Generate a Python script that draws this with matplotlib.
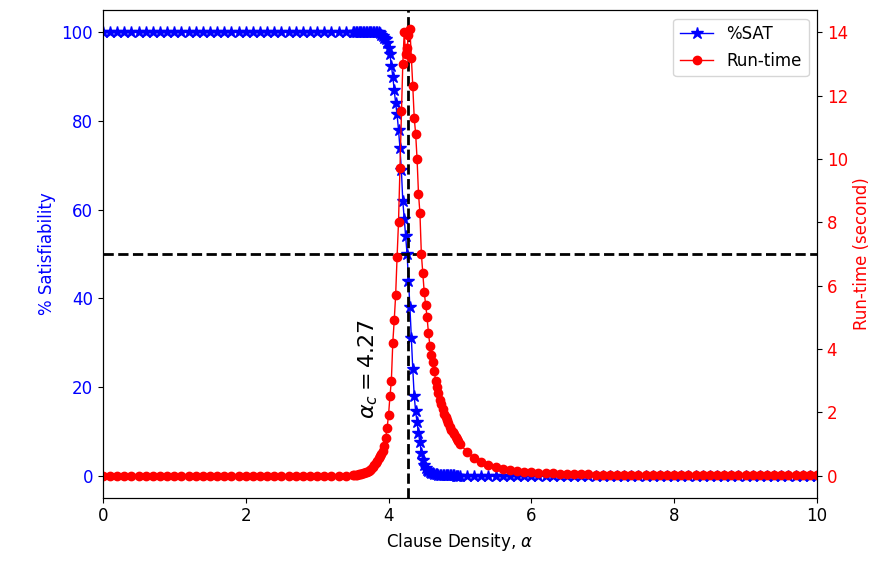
import numpy as np
import matplotlib
matplotlib.use("Agg")
import matplotlib.pyplot as plt

# sampling: 0.1 steps far from the transition, 0.02 steps around it
x_low = np.round(np.arange(0.0, 3.45, 0.1), 2)
x_mid = np.round(np.arange(3.50, 4.99, 0.02), 2)
x_high = np.round(np.arange(5.0, 10.05, 0.1), 2)

sat_low = [100.0] * len(x_low)
sat_mid = [100, 100, 100, 100, 100, 100, 100, 100, 100, 100,
           100, 100, 100, 100, 100, 100, 100, 100, 100,
           99.8, 99.5, 99.2, 98.8, 98.5, 97.5, 96.5, 95, 92.5, 90,
           87, 84, 81.5, 78, 74, 69, 62, 58, 54, 50,
           44, 38, 31, 24, 18, 14.5, 12, 9.5, 7.5, 5,
           3.5, 2.5, 1.8, 1.3, 1.0, 0.8, 0.6, 0.5, 0.4, 0.3,
           0.25, 0.2,
           0.15, 0.12, 0.1, 0.1, 0.08, 0.06, 0.05, 0.05, 0.04, 0.03,
           0.03, 0.02, 0.02, 0.02]
sat_high = [0.0] * len(x_high)

rt_low = [0.0] * len(x_low)
rt_mid = [0.02, 0.02, 0.03, 0.03, 0.04, 0.05, 0.06, 0.07, 0.08, 0.10,
          0.12, 0.15, 0.18, 0.22, 0.28, 0.33, 0.40, 0.47, 0.55, 0.62,
          0.68, 0.78, 0.95, 1.2, 1.5, 1.9, 2.5, 3.0, 4.2, 4.9,
          5.7, 6.9, 8.0, 9.7, 11.5, 13.0, 14.0, 13.3, 13.5, 13.9,
          14.1, 13.2, 12.3, 11.3, 10.8, 10.0, 8.9, 8.3, 7.0, 6.4,
          5.8, 5.4, 5.0, 4.5, 4.1, 3.8, 3.6, 3.3, 3.0, 2.8,
          2.6, 2.4, 2.25, 2.1, 1.95, 1.85, 1.75, 1.65, 1.55, 1.45,
          1.38, 1.3, 1.22, 1.15, 1.08]
rt_high = [1.0, 0.75, 0.56, 0.42, 0.32, 0.26, 0.21, 0.17, 0.14, 0.12,
           0.10, 0.09, 0.08, 0.07, 0.06, 0.05, 0.05, 0.04, 0.04, 0.03,
           0.03, 0.03, 0.03, 0.02, 0.02, 0.02, 0.02, 0.02, 0.02, 0.02,
           0.02, 0.01, 0.01, 0.01, 0.01, 0.01, 0.01, 0.01, 0.01, 0.01,
           0.01, 0.01, 0.01, 0.01, 0.01, 0.01, 0.01, 0.01, 0.01, 0.01,
           0.01]

alpha = np.concatenate([x_low, x_mid, x_high])
sat = np.concatenate([sat_low, sat_mid, sat_high])
runtime = np.concatenate([rt_low, rt_mid, rt_high])

alpha_c = 4.27

fig, ax1 = plt.subplots(figsize=(8.87, 5.65), dpi=100)
fig.subplots_adjust(left=0.116, right=0.921, top=0.982, bottom=0.119)

l1, = ax1.plot(alpha, sat, color="blue", marker="*", markersize=9, linewidth=1,
               label="%SAT")
ax1.set_xlim(0, 10)
ax1.set_ylim(-5, 105)
ax1.set_xlabel(r"Clause Density, $\alpha$", fontsize=12)
ax1.set_ylabel("% Satisfiability", color="blue", fontsize=12)
ax1.tick_params(axis="y", labelcolor="blue", labelsize=12)
ax1.tick_params(axis="x", labelsize=12)

ax2 = ax1.twinx()
l2, = ax2.plot(alpha, runtime, color="red", marker="o", markersize=6, linewidth=1,
               label="Run-time")
ax2.set_ylim(-0.7, 14.7)
ax2.set_ylabel("Run-time (second)", color="red", fontsize=12)
ax2.tick_params(axis="y", labelcolor="red", labelsize=12)

ax1.axvline(alpha_c, color="black", linestyle="--", linewidth=2)
ax1.axhline(50, color="black", linestyle="--", linewidth=2)
ax1.text(3.71, 24, r"$\alpha_c = 4.27$", rotation=90, fontsize=16,
         ha="center", va="center")

ax2.legend([l1, l2], ["%SAT", "Run-time"], loc="upper right", fontsize=12)

fig.savefig("out.png", dpi=100)
